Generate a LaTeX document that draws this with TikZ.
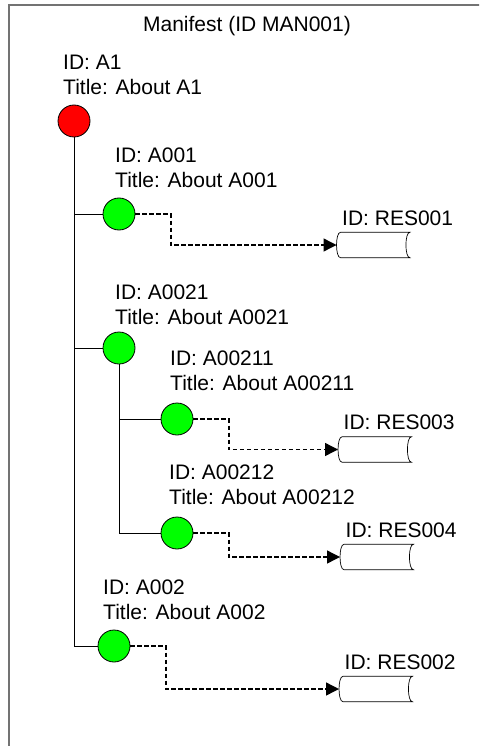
\documentclass[tikz,border=0pt]{standalone}
\usepackage{fontspec}
\setmainfont{Liberation Sans}
\usetikzlibrary{arrows.meta,positioning}

% outline of a stored resource: curved left and right ends
\newcommand{\resoutline}[1]{%
  \draw[fill=white,line width=0.7pt] ([xshift=4pt]#1.north west) -- (#1.north east)
    .. controls ([xshift=-5.3pt]#1.north east) and ([xshift=-5.3pt]#1.south east) .. (#1.south east)
    -- ([xshift=4pt]#1.south west)
    .. controls ([xshift=-1.3pt]#1.south west) and ([xshift=-1.3pt]#1.north west) .. cycle;}

\begin{document}
\begin{tikzpicture}[x=1pt,y=-1pt,
  every node/.style={font=\fontsize{21pt}{25pt}\selectfont},
  info/.style={anchor=west,align=left,inner sep=0pt},
  root/.style={circle,draw,line width=0.8pt,fill=red,minimum size=32pt,inner sep=0pt},
  leaf/.style={circle,draw,line width=0.8pt,fill=green,minimum size=32pt,inner sep=0pt},
  resbox/.style={anchor=west,minimum width=73pt,minimum height=25pt,inner sep=0pt},
  reslabel/.style={inner sep=0pt},
  tree/.style={line width=0.9pt},
  link/.style={line width=1.4pt,dash pattern=on 4.5pt off 2.5pt,-{Triangle[length=13pt,width=13pt]}}]
\useasboundingbox (0,0) rectangle (479,746);
\clip (0,0) rectangle (479,746);
  %\draw[help lines,step=50] (0,0) grid (479,746);
\draw[black!55,line width=2pt] (9,760) -- (9,5) -- (490,5);

\node (title) at (247,26) {Manifest (ID MAN001)};

\path
(63,75) node [info] (tA1) {ID: A1\\Title: About A1}
(115,168) node [info] (tA001) {ID: A001\\Title: About A001}
(115,305) node [info] (tA0021) {ID: A0021\\Title: About A0021}
(170,370.5) node [info] (tA00211) {ID: A00211\\Title: About A00211}
(169,484.5) node [info] (tA00212) {ID: A00212\\Title: About A00212}
(103,600) node [info] (tA002) {ID: A002\\Title: About A002}
;

\begin{scope}[every path/.style=draw,tree]
\path (74,121) -- (74,646);
\end{scope}

\path
(74,121) node [root] (A1) {}
(119,214) node [leaf] (A001) {}
(119,348) node [leaf] (A0021) {}
(177,419) node [leaf] (A00211) {}
(177,533) node [leaf] (A00212) {}
(114,646) node [leaf] (A002) {}
;

\begin{scope}[every path/.style=draw,tree]
\path (A1.south |- A001.west) -- (A001.west);
\path (A1.south |- A0021.west) -- (A0021.west);
\path (A1.south |- A002.west) -- (A002.west);
\path (A0021.south) |- (A00212.west);
\path (A0021.south |- A00211.west) -- (A00211.west);
\end{scope}

\path
(336.5,245) node [resbox] (RES001) {}
(338,449.5) node [resbox] (RES003) {}
(340,557) node [resbox] (RES004) {}
(339,689) node [resbox] (RES002) {}
;
\resoutline{RES001}
\resoutline{RES003}
\resoutline{RES004}
\resoutline{RES002}

\node [reslabel,above right=6.5pt and 5.5pt of RES001.north west] (lRES001) {ID: RES001};
\node [reslabel,above right=6.5pt and 5.5pt of RES003.north west] (lRES003) {ID: RES003};
\node [reslabel,above right=6.5pt and 5.5pt of RES004.north west] (lRES004) {ID: RES004};
\node [reslabel,above right=6.5pt and 5.5pt of RES002.north west] (lRES002) {ID: RES002};

\draw[link] (A001.east) -- ++(35.5,0) |- (RES001.west);
\draw[link] (A00211.east) -- ++(35.5,0) |- (RES003.west);
\draw[link] (A00212.east) -- ++(35.5,0) |- (RES004.west);
\draw[link] (A002.east) -- ++(35.5,0) |- (RES002.west);
\end{tikzpicture}
\end{document}
